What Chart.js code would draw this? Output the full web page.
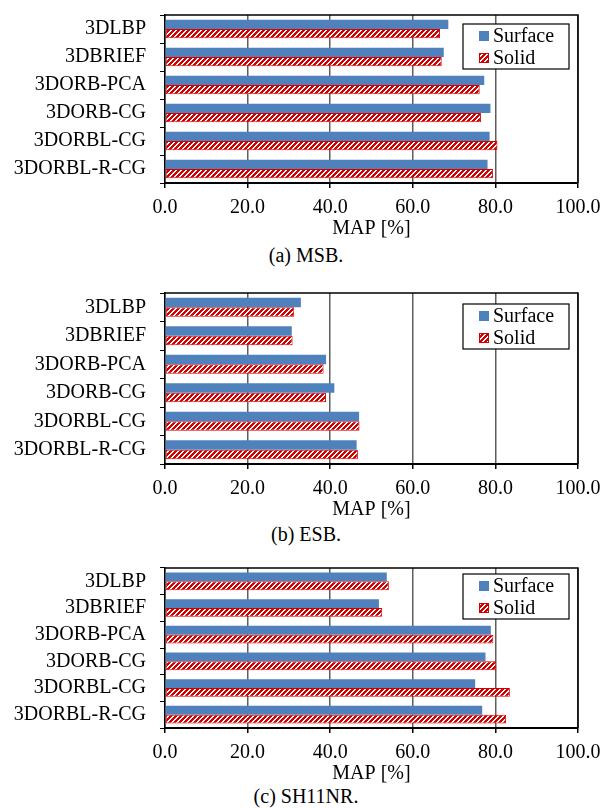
<!DOCTYPE html>
<html>
<head>
<meta charset="utf-8">
<script src="https://cdn.jsdelivr.net/npm/chart.js@4/dist/chart.umd.min.js"></script>
<style>
  html, body { margin: 0; padding: 0; background: #fff; }
  #wrap { position: relative; width: 603px; height: 808px; overflow: hidden; }
  .panel { position: absolute; left: 0; width: 603px; }
  .caption { position: absolute; font-family: 'Liberation Serif', 'Times New Roman', serif; font-size: 20px; line-height: 20px; color: #000; white-space: nowrap; transform: translateX(-50%); }
</style>
</head>
<body>
<div id="wrap">
  <div class="panel" id="p0" style="top:0px;height:239px"><canvas id="c0"></canvas></div>
  <div class="panel" id="p1" style="top:278px;height:242px"><canvas id="c1"></canvas></div>
  <div class="panel" id="p2" style="top:553px;height:231px"><canvas id="c2"></canvas></div>
  <div class="caption" id="cap0" style="left:306px;top:245px"></div>
  <div class="caption" id="cap1" style="left:306px;top:524px"></div>
  <div class="caption" id="cap2" style="left:306px;top:786px"></div>
</div>
<script>
// ---- data ----
const categories = ['3DLBP', '3DBRIEF', '3DORB-PCA', '3DORB-CG', '3DORBL-CG', '3DORBL-R-CG'];
const seriesNames = ['Surface', 'Solid'];
const msbSurface = [68.6, 67.5, 77.3, 78.8, 78.6, 78.1];
const msbSolid   = [66.6, 67.0, 76.2, 76.5, 80.5, 79.4];
const esbSurface = [32.9, 30.7, 39.0, 41.0, 47.0, 46.4];
const esbSolid   = [31.3, 30.9, 38.4, 39.0, 47.1, 46.7];
const shSurface  = [53.7, 51.8, 78.9, 77.6, 75.1, 76.8];
const shSolid    = [54.2, 52.6, 79.5, 80.2, 83.5, 82.6];
const xTickValues = [0, 20, 40, 60, 80, 100];
const axisTitle = 'MAP [%]';
const captions = ['(a) MSB.', '(b) ESB.', '(c) SH11NR.'];

// ---- styles ----
const FONT = "'Liberation Serif', 'Times New Roman', serif";
const BLUE = '#4f81bd';
const RED = '#d40000';

function makeStripePattern() {
  const p = 5;
  const c = document.createElement('canvas');
  c.width = p; c.height = p;
  const g = c.getContext('2d');
  const img = g.createImageData(p, p);
  for (let y = 0; y < p; y++) {
    for (let x = 0; x < p; x++) {
      const i = (y * p + x) * 4;
      const white = ((x + y) % p) < 2;
      img.data[i] = white ? 255 : 212;
      img.data[i + 1] = white ? 255 : 0;
      img.data[i + 2] = white ? 255 : 0;
      img.data[i + 3] = 255;
    }
  }
  g.putImageData(img, 0, 0);
  return c;
}
const stripeTile = makeStripePattern();

const frameAndLegend = {
  id: 'frameAndLegend',
  afterDraw(chart, args, opts) {
    const ctx = chart.ctx;
    const a = chart.chartArea;
    ctx.save();
    // frame (top + right)
    ctx.strokeStyle = '#000';
    ctx.lineWidth = 1.5;
    ctx.beginPath();
    ctx.moveTo(a.left, a.top);
    ctx.lineTo(a.right, a.top);
    ctx.lineTo(a.right, a.bottom);
    ctx.stroke();
    // legend box
    const w = 106, h = 45;
    const bx = a.right - 9 - w;
    const by = a.top + opts.offsetTop;
    ctx.fillStyle = '#fff';
    ctx.fillRect(bx, by, w, h);
    ctx.strokeStyle = '#000';
    ctx.lineWidth = 1.2;
    ctx.strokeRect(bx, by, w, h);
    ctx.font = '20px ' + FONT;
    ctx.textBaseline = 'middle';
    ctx.textAlign = 'left';
    chart.data.datasets.forEach((ds, i) => {
      const cy = by + 12 + i * 22;
      const sx = bx + 16, sy = cy - 5;
      ctx.fillStyle = ds.legendFill;
      ctx.fillRect(sx, sy, 10, 10);
      if (ds.borderWidth) {
        ctx.strokeStyle = ds.borderColor;
        ctx.lineWidth = 1;
        ctx.strokeRect(sx + 0.5, sy + 0.5, 9, 9);
      }
      ctx.fillStyle = '#000';
      ctx.fillText(ds.label, bx + 30, cy + 1);
    });
    ctx.restore();
  }
};

function makeChart(canvasId, surface, solid, legendTop) {
  const ctx = document.getElementById(canvasId).getContext('2d');
  const pattern = ctx.createPattern(stripeTile, 'repeat');
  return new Chart(ctx, {
    type: 'bar',
    data: {
      labels: categories,
      datasets: [
        { label: seriesNames[0], data: surface, backgroundColor: BLUE, borderWidth: 0, legendFill: BLUE,
          categoryPercentage: 0.66, barPercentage: 1.0 },
        { label: seriesNames[1], data: solid, backgroundColor: pattern, borderColor: RED, borderWidth: 1,
          borderSkipped: false, legendFill: pattern, categoryPercentage: 0.66, barPercentage: 1.0 }
      ]
    },
    options: {
      indexAxis: 'y',
      responsive: true,
      maintainAspectRatio: false,
      animation: false,
      events: [],
      layout: { padding: { top: 15, right: 25, left: 0, bottom: 0 } },
      plugins: {
        legend: { display: false },
        tooltip: { enabled: false },
        frameAndLegend: { offsetTop: legendTop }
      },
      scales: {
        x: {
          type: 'linear',
          min: 0, max: 100,
          afterBuildTicks(scale) { scale.ticks = xTickValues.map(v => ({ value: v })); },
          afterFit(scale) { scale.paddingLeft = 0; scale.paddingRight = 0; },
          ticks: {
            color: '#000',
            font: { family: FONT, size: 20, lineHeight: 1 },
            padding: 10,
            maxRotation: 0,
            callback: v => Number(v).toFixed(1)
          },
          grid: { color: '#5e5e5e', lineWidth: 1.5, tickColor: '#000', tickLength: 5, tickWidth: 1.5 },
          border: { color: '#000', width: 2 },
          title: { display: true, text: axisTitle, color: '#000', font: { family: FONT, size: 20, lineHeight: 1, weight: 'normal' }, padding: { top: -9, bottom: 0 } }
        },
        y: {
          afterFit(scale) { scale.width = 165; scale.paddingTop = 0; scale.paddingBottom = 0; },
          ticks: { color: '#000', font: { family: FONT, size: 20, lineHeight: 1 }, padding: 14 },
          grid: { offset: true, drawOnChartArea: false, tickColor: '#000', tickLength: 5, tickWidth: 1 },
          border: { color: '#000', width: 1.5 }
        }
      }
    },
    plugins: [frameAndLegend]
  });
}

makeChart('c0', msbSurface, msbSolid, 9);
makeChart('c1', esbSurface, esbSolid, 11);
makeChart('c2', shSurface, shSolid, 6);
captions.forEach((t, i) => { document.getElementById('cap' + i).textContent = t; });
</script>
</body>
</html>
